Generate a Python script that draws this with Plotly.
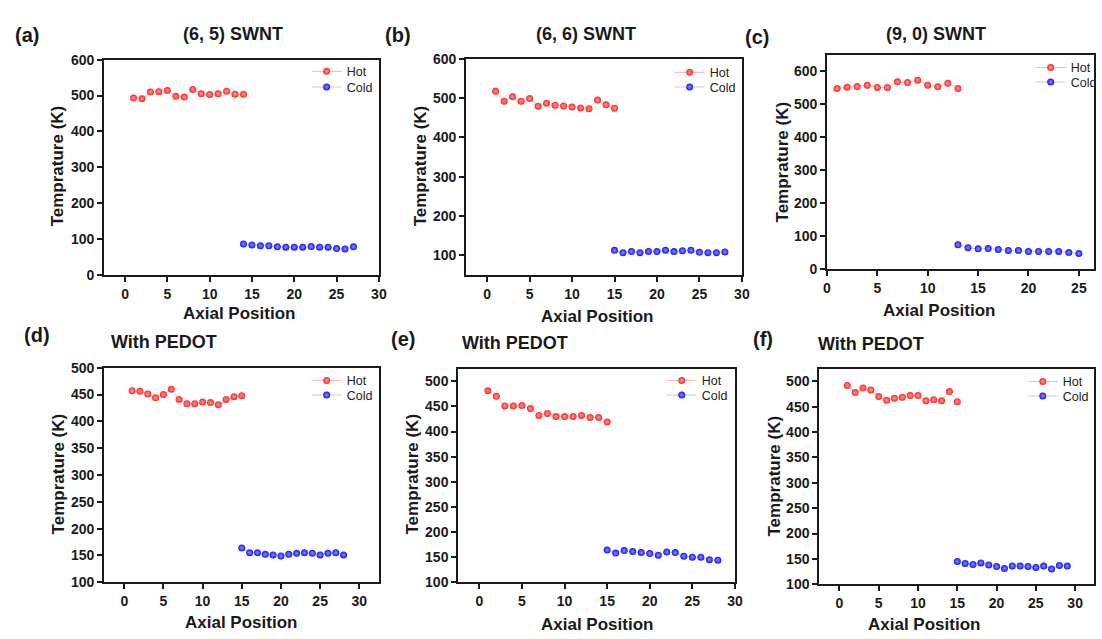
import plotly.graph_objects as go

# Axial temperature profiles, hot and cold segments, for three SWNT chiralities
# without (a-c) and with (d-f) a PEDOT coating.

pos_a_hot = [1, 2, 3, 4, 5, 6, 7, 8, 9, 10, 11, 12, 13, 14]
temp_a_hot = [493, 491, 510, 511, 514, 498, 496, 517, 505, 503, 505, 512, 504, 504]
pos_a_cold = [14, 15, 16, 17, 18, 19, 20, 21, 22, 23, 24, 25, 26, 27]
temp_a_cold = [87, 84, 82, 82, 79, 78, 78, 78, 80, 78, 78, 74, 73, 79]

pos_b_hot = [1, 2, 3, 4, 5, 6, 7, 8, 9, 10, 11, 12, 13, 14, 15]
temp_b_hot = [517, 492, 503, 492, 499, 479, 487, 482, 480, 477, 475, 473, 495, 483, 474]
pos_b_cold = [15, 16, 17, 18, 19, 20, 21, 22, 23, 24, 25, 26, 27, 28]
temp_b_cold = [113, 107, 110, 107, 110, 110, 113, 110, 112, 113, 108, 107, 107, 109]

pos_c_hot = [1, 2, 3, 4, 5, 6, 7, 8, 9, 10, 11, 12, 13]
temp_c_hot = [548, 552, 554, 558, 551, 551, 568, 566, 573, 558, 553, 564, 548]
pos_c_cold = [13, 14, 15, 16, 17, 18, 19, 20, 21, 22, 23, 24, 25]
temp_c_cold = [74, 65, 62, 63, 60, 57, 57, 54, 54, 54, 54, 51, 48]

pos_d_hot = [1, 2, 3, 4, 5, 6, 7, 8, 9, 10, 11, 12, 13, 14, 15]
temp_d_hot = [457, 456, 451, 444, 450, 460, 441, 433, 433, 436, 435, 431, 441, 446, 448]
pos_d_cold = [15, 16, 17, 18, 19, 20, 21, 22, 23, 24, 25, 26, 27, 28]
temp_d_cold = [164, 155, 155, 152, 151, 149, 152, 154, 155, 154, 151, 154, 155, 151]

pos_e_hot = [1, 2, 3, 4, 5, 6, 7, 8, 9, 10, 11, 12, 13, 14, 15]
temp_e_hot = [481, 470, 451, 451, 452, 446, 432, 436, 430, 430, 430, 432, 428, 428, 419]
pos_e_cold = [15, 16, 17, 18, 19, 20, 21, 22, 23, 24, 25, 26, 27, 28]
temp_e_cold = [164, 158, 163, 161, 159, 157, 154, 160, 159, 152, 150, 150, 145, 144]

pos_f_hot = [1, 2, 3, 4, 5, 6, 7, 8, 9, 10, 11, 12, 13, 14, 15]
temp_f_hot = [492, 478, 487, 483, 470, 463, 467, 469, 472, 472, 462, 464, 462, 480, 460]
pos_f_cold = [15, 16, 17, 18, 19, 20, 21, 22, 23, 24, 25, 26, 27, 28, 29]
temp_f_cold = [145, 141, 139, 142, 138, 135, 131, 136, 136, 135, 133, 136, 130, 137, 136]

panel_labels = ["(a)", "(b)", "(c)", "(d)", "(e)", "(f)"]
panel_titles = ["(6, 5) SWNT", "(6, 6) SWNT", "(9, 0) SWNT", "With PEDOT", "With PEDOT", "With PEDOT"]
x_title = "Axial Position"
y_title = "Temprature (K)"
series_names = ["Hot", "Cold"]

W, H = 1102, 639
FONT = "Liberation Sans, Arial, sans-serif"
INK = "#1a1a1a"


def px(x):
    return x / W


def py(y):
    return 1 - y / H


# Plot-area boxes in pixels: left, right, top, bottom
boxes = [
    (101, 379, 53, 274),
    (467, 746, 52, 274),
    (832, 1102, 48, 268),
    (101, 379, 369, 589),
    (459, 739, 370, 589),
    (824, 1102, 370, 591),
]
x_ranges = [[-2.5, 30], [-2.5, 30], [0, 26.5], [-2.6, 32.5], [-2.5, 30], [-2.6, 32.4]]
x_ticks = [[0, 5, 10, 15, 20, 25, 30]] * 2 + [[0, 5, 10, 15, 20, 25]] + [[0, 5, 10, 15, 20, 25, 30]] * 3
y_ranges = [[0, 600], [50, 600], [0, 650], [100, 500], [100, 525], [100, 525]]
y_dticks = [100, 100, 100, 50, 50, 50]

# Label anchors in pixels
label_pos = [(23, 28), (398, 28), (761, 30), (33, 335), (403, 340), (767, 339)]
title_pos = [(232, 27), (588, 27), (942, 27), (162, 343), (517, 344), (877, 345)]
xtitle_pos = [(238, 313), (600, 316), (945, 310), (240, 630), (600, 632), (930, 632)]
ytitle_pos = [(55, 162), (422, 162), (787, 158), (55, 478), (413, 478), (779, 480)]
# Legend marker centre (x) and row centres (y) in pixels
legend_pos = [(326, 71, 87), (693, 72, 87), (1058, 67, 82), (326, 388, 403), (685, 388, 403), (1050, 389, 404)]

hot_sets = [(pos_a_hot, temp_a_hot), (pos_b_hot, temp_b_hot), (pos_c_hot, temp_c_hot),
            (pos_d_hot, temp_d_hot), (pos_e_hot, temp_e_hot), (pos_f_hot, temp_f_hot)]
cold_sets = [(pos_a_cold, temp_a_cold), (pos_b_cold, temp_b_cold), (pos_c_cold, temp_c_cold),
             (pos_d_cold, temp_d_cold), (pos_e_cold, temp_e_cold), (pos_f_cold, temp_f_cold)]

HOT = dict(color="#ff2424", glow="#ffa0a0", line="#f5a5a5")
COLD = dict(color="#1414ff", glow="#9090ff", line="#b4bcd8")

fig = go.Figure()
layout = dict(
    width=W, height=H,
    margin=dict(l=0, r=0, t=0, b=0),
    paper_bgcolor="white", plot_bgcolor="white",
    font=dict(family=FONT, color=INK),
    showlegend=True,
    annotations=[],
)

legend_idx = 1
for i in range(6):
    k = "" if i == 0 else str(i + 1)
    l, r, t, b = boxes[i]
    layout["xaxis" + k] = dict(
        domain=[px(l), px(r)], anchor="y" + k, range=x_ranges[i],
        tickvals=x_ticks[i], ticks="outside", ticklen=5, tickwidth=1.5, tickcolor=INK,
        showline=True, linewidth=1.5, linecolor=INK, mirror=True,
        showgrid=False, zeroline=False,
        tickfont=dict(family=FONT, size=14, weight="bold", color=INK),
    )
    layout["yaxis" + k] = dict(
        domain=[py(b), py(t)], anchor="x" + k, range=y_ranges[i],
        dtick=y_dticks[i], tick0=0, ticks="outside", ticklen=5, tickwidth=1.5, tickcolor=INK,
        showline=True, linewidth=1.5, linecolor=INK, mirror=True,
        showgrid=False, zeroline=False,
        tickfont=dict(family=FONT, size=14, weight="bold", color=INK),
    )

    for (xs, ys), name, style, row in ((hot_sets[i], series_names[0], HOT, 1),
                                       (cold_sets[i], series_names[1], COLD, 2)):
        lname = "legend" if legend_idx == 1 else "legend" + str(legend_idx)
        fig.add_trace(go.Scatter(
            x=xs, y=ys, name=name, mode="lines+markers",
            xaxis="x" + k, yaxis="y" + k, legend=lname, showlegend=True,
            line=dict(color=style["line"], width=0.8),
            marker=dict(size=7, color=style["color"], line=dict(width=0),
                        gradient=dict(type="radial", color=style["glow"])),
        ))
        mx, y1, y2 = legend_pos[i]
        cy = y1 if row == 1 else y2
        layout[lname] = dict(
            x=px(mx - 20), xanchor="left",
            y=py(cy - 21), yanchor="top",
            bgcolor="rgba(0,0,0,0)", borderwidth=0,
            font=dict(family=FONT, size=12.5, color="#222222"),
            itemwidth=30,
        )
        legend_idx += 1

    ann = layout["annotations"]
    ann.append(dict(text=panel_labels[i], x=px(label_pos[i][0]), y=py(label_pos[i][1]),
                    xref="paper", yref="paper", showarrow=False, xanchor="center", yanchor="middle",
                    font=dict(family=FONT, size=20, weight="bold", color=INK)))
    ann.append(dict(text=panel_titles[i], x=px(title_pos[i][0]), y=py(title_pos[i][1]),
                    xref="paper", yref="paper", showarrow=False, xanchor="center", yanchor="middle",
                    font=dict(family=FONT, size=18, weight="bold", color=INK)))
    ann.append(dict(text=x_title, x=px(xtitle_pos[i][0]), y=py(xtitle_pos[i][1]),
                    xref="paper", yref="paper", showarrow=False, xanchor="center", yanchor="middle",
                    font=dict(family=FONT, size=17, weight="bold", color=INK)))
    ann.append(dict(text=y_title, x=px(ytitle_pos[i][0]), y=py(ytitle_pos[i][1]),
                    xref="paper", yref="paper", showarrow=False, xanchor="center", yanchor="middle",
                    textangle=-90,
                    font=dict(family=FONT, size=17, weight="bold", color=INK)))

fig.update_layout(**layout)
fig.write_html("out.html")
